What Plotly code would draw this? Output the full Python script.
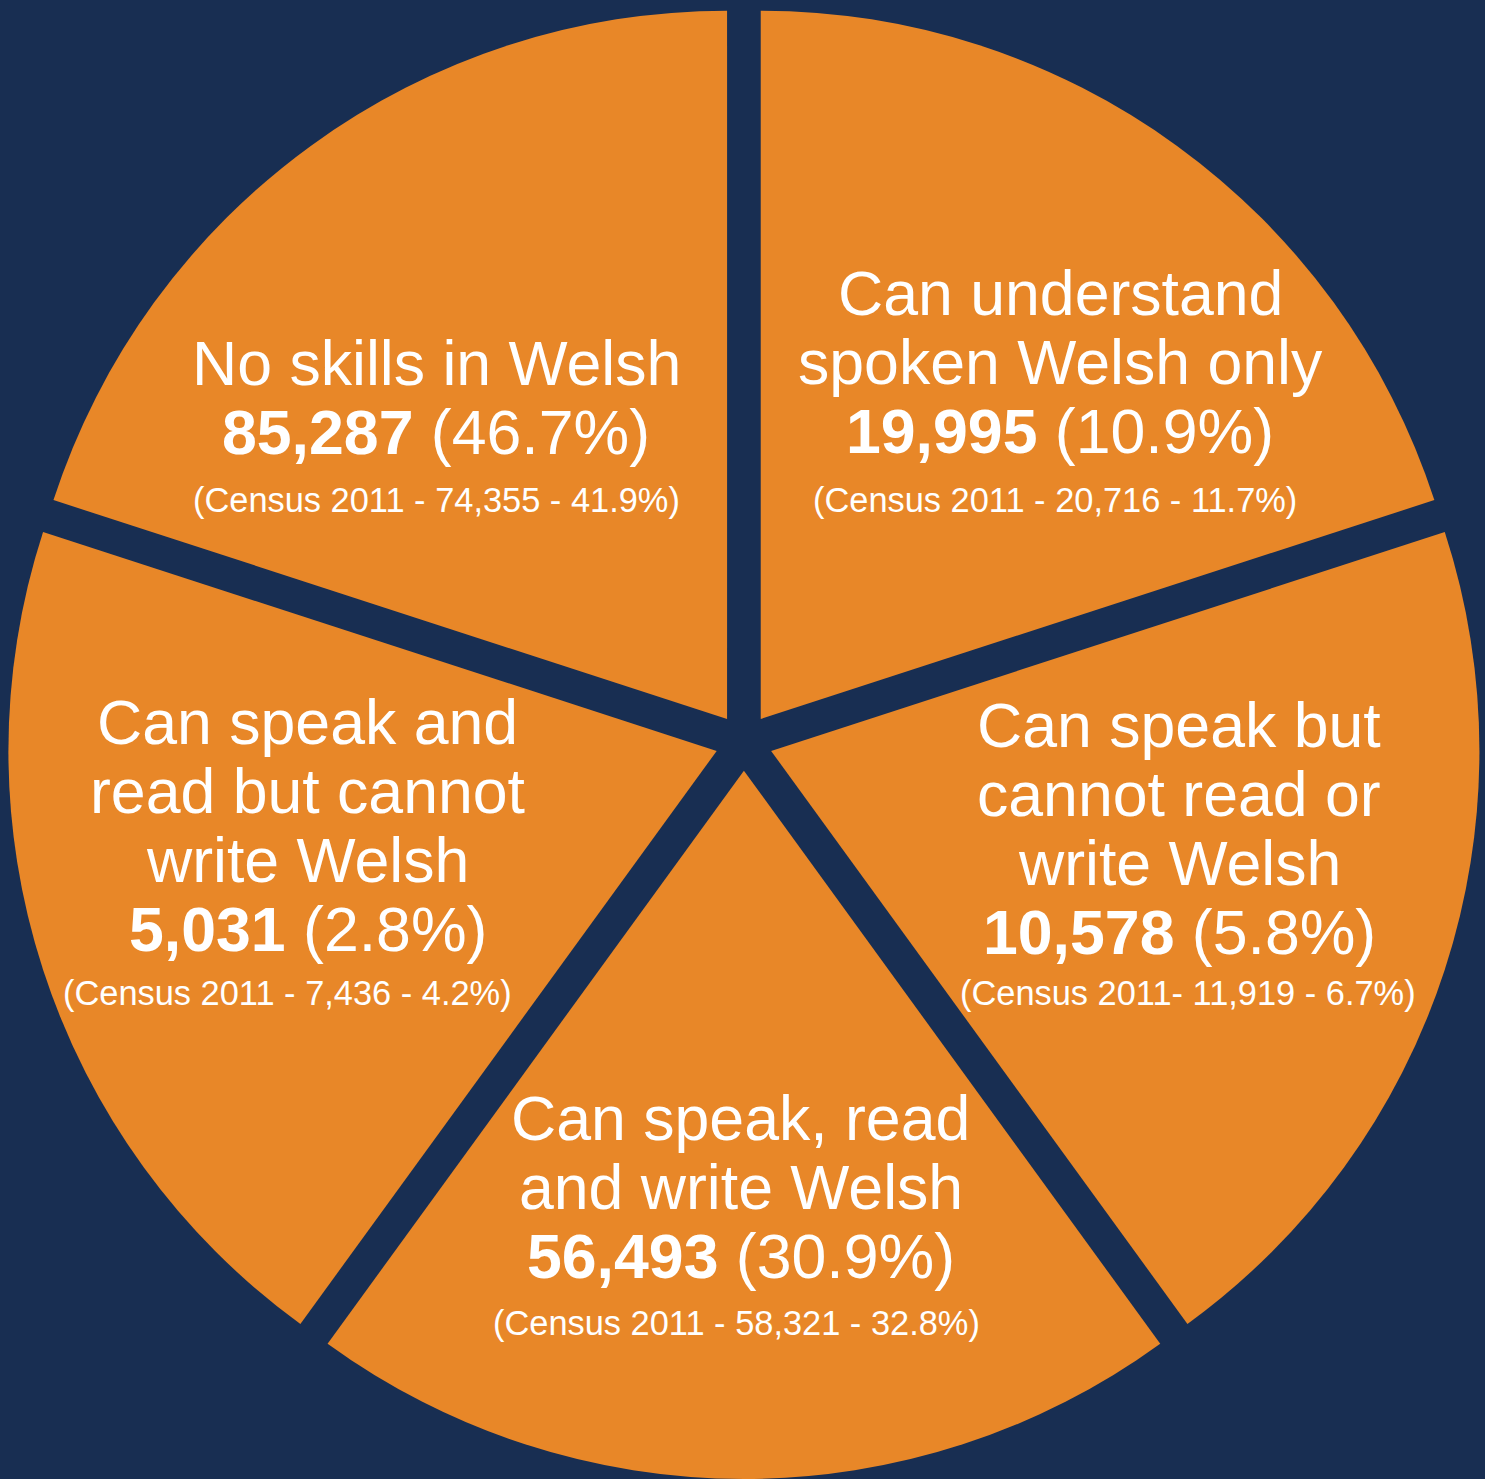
import plotly.graph_objects as go

# ---- data (slices are drawn in equal size in the original infographic) ----
categories = [
    "Can understand spoken Welsh only",
    "Can speak but cannot read or write Welsh",
    "Can speak, read and write Welsh",
    "Can speak and read but cannot write Welsh",
    "No skills in Welsh",
]
label_lines = [
    ["Can understand", "spoken Welsh only"],
    ["Can speak but", "cannot read or", "write Welsh"],
    ["Can speak, read", "and write Welsh"],
    ["Can speak and", "read but cannot", "write Welsh"],
    ["No skills in Welsh"],
]
slice_weight = [1, 1, 1, 1, 1]
counts_2021 = [19995, 10578, 56493, 5031, 85287]
pct_2021 = [10.9, 5.8, 30.9, 2.8, 46.7]
counts_2011 = [20716, 11919, 58321, 7436, 74355]
pct_2011 = [11.7, 6.7, 32.8, 4.2, 41.9]
census_sep = [" - ", "- ", " - ", " - ", " - "]

# ---- styling / layout ----
W, H = 1485, 1479
NAVY = "#182E52"
ORANGE = "#E88728"
FONT = "Liberation Sans, Arial, sans-serif"
MAIN_SIZE = 62.6
SMALL_SIZE = 34.4
LINE_STEP = 69

# label block placement in pixels: (main centre x, first baseline y, census centre x, census baseline y)
block_pos = [
    (1060, 315, 1055, 512),
    (1179, 747, 1188, 1005),
    (740.5, 1140, 736.5, 1335),
    (307.5, 744, 287, 1005),
    (436, 385, 436.5, 512),
]

fig = go.Figure(
    go.Pie(
        labels=categories,
        values=slice_weight,
        sort=False,
        direction="clockwise",
        rotation=0,
        pull=0.0404,
        marker=dict(colors=[ORANGE] * len(categories), line=dict(width=0)),
        textinfo="none",
        hoverinfo="skip",
        showlegend=False,
        domain=dict(x=[0.0019, 1.0], y=[0.0, 0.9965]),
    )
)


def px_to_paper(xp, yp):
    return xp / W, 1 - yp / H


annotations = []
for i, lines in enumerate(label_lines):
    mx, by, cx, cby = block_pos[i]
    texts = list(lines) + [f"<b>{counts_2021[i]:,}</b> ({pct_2021[i]:.1f}%)"]
    for j, t in enumerate(texts):
        baseline = by + j * LINE_STEP
        xp, yp = px_to_paper(mx, baseline - 0.3465 * MAIN_SIZE)
        annotations.append(dict(
            text=t, x=xp, y=yp, xref="paper", yref="paper",
            xanchor="center", yanchor="middle", showarrow=False,
            font=dict(family=FONT, size=MAIN_SIZE, color="white"),
        ))
    census = f"(Census 2011{census_sep[i]}{counts_2011[i]:,} - {pct_2011[i]:.1f}%)"
    xp, yp = px_to_paper(cx, cby - 0.3465 * SMALL_SIZE)
    annotations.append(dict(
        text=census, x=xp, y=yp, xref="paper", yref="paper",
        xanchor="center", yanchor="middle", showarrow=False,
        font=dict(family=FONT, size=SMALL_SIZE, color="white"),
    ))

fig.update_layout(
    width=W, height=H, autosize=False,
    margin=dict(l=0, r=0, t=0, b=0, pad=0),
    paper_bgcolor=NAVY, plot_bgcolor=NAVY,
    annotations=annotations,
)

fig.write_html("out.html", config={"displayModeBar": False})
